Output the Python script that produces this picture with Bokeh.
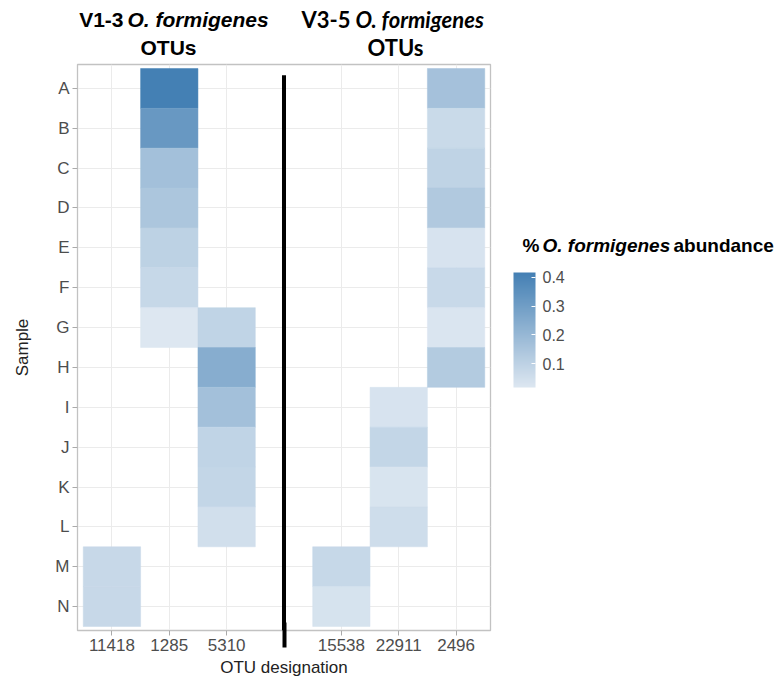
import numpy as np
from bokeh.plotting import figure
from bokeh.layouts import column, row
from bokeh.models import (ColumnDataSource, LinearColorMapper, ColorBar, FixedTicker,
                          Range1d, BoxAnnotation, Label)
from bokeh.embed import file_html
from bokeh.resources import INLINE

# ---------------- data ----------------
samples = list("ABCDEFGHIJKLMN")
v13_otus = ["11418", "1285", "5310"]
v35_otus = ["15538", "22911", "2496"]
otu_slots = v13_otus + [""] + v35_otus   # blank slot holds the divider

tile_otu = (["1285"] * 7 + ["5310"] * 6 + ["11418"] * 2 +
            ["15538"] * 2 + ["22911"] * 4 + ["2496"] * 8)
tile_sample = (list("ABCDEFG") + list("GHIJKL") + list("MN") +
               list("MN") + list("IJKL") + list("ABCDEFGH"))
abundance = ([0.417, 0.322, 0.170, 0.146, 0.101, 0.077, 0.017] +
             [0.093, 0.241, 0.167, 0.093, 0.085, 0.049] +
             [0.075, 0.075] +
             [0.077, 0.035] +
             [0.033, 0.085, 0.030, 0.057] +
             [0.164, 0.070, 0.096, 0.133, 0.033, 0.072, 0.025, 0.127])
legend_ticks = [0.1, 0.2, 0.3, 0.4]

# ---------------- colours ----------------
def hex2rgb(h):
    h = h.lstrip("#")
    return np.array([int(h[i:i + 2], 16) for i in (0, 2, 4)], dtype=float)

low_c, high_c = hex2rgb("#dde7f1"), hex2rgb("#4480b4")
palette = ["#%02x%02x%02x" % tuple(int(round(c)) for c in low_c + (high_c - low_c) * t)
           for t in np.linspace(0, 1, 256)]
mapper = LinearColorMapper(palette=palette, low=min(abundance), high=max(abundance))

src = ColumnDataSource(dict(
    x=[otu_slots.index(o) + 1 for o in tile_otu],
    y=[samples.index(s) + 1 for s in tile_sample],
    v=abundance,
))

TOP, BOTTOM = 1, 53          # borders of the heatmap figure (frames are aligned in the row)
HEAD_H = 63


def blank_fig(w, h, top=0, bottom=0):
    f = figure(width=w, height=h, output_backend="svg", toolbar_location=None,
               title=None, x_axis_type=None, y_axis_type=None,
               x_range=Range1d(0, w), y_range=Range1d(h - top - bottom, 0),
               min_border=0, min_border_left=0, min_border_right=0,
               min_border_top=top, min_border_bottom=bottom,
               background_fill_color="white", border_fill_color="white")
    f.grid.visible = False
    f.outline_line_color = None
    return f


def lab(f, txt, x, y, size, font, style="bold", align="left"):
    f.add_layout(Label(x=x, y=y, text=txt, text_font=font, text_font_size=size,
                       text_font_style=style, text_align=align,
                       text_baseline="alphabetic", text_color="black"))


# ---------------- header strip ----------------
head = blank_fig(779, HEAD_H)
lab(head, "V1-3", 123, 19, "21px", "Liberation Sans", "bold", "right")
lab(head, "O. formigenes", 127, 19, "21px", "Liberation Sans", "bold italic", "left")
lab(head, "OTUs", 168, 47, "21px", "Liberation Sans", "bold", "center")
lab(head, "V3-5", 350, 19, "22px", "Lato", "bold", "right")
lab(head, "O. formigenes", 355, 19, "22px", "Lato", "bold italic", "left")
lab(head, "OTUs", 395, 47, "22px", "Lato", "bold", "center")

# ---------------- heatmap ----------------
p = figure(width=500, height=620, output_backend="svg", toolbar_location=None,
           title=None,
           x_range=Range1d(0.4, len(otu_slots) + 0.6),
           y_range=Range1d(len(samples) + 0.6, 0.4),
           min_border_left=77, min_border_right=10,
           min_border_top=TOP, min_border_bottom=BOTTOM,
           background_fill_color="white", border_fill_color="white")

p.rect(x="x", y="y", width=1, height=1, source=src,
       fill_color={"field": "v", "transform": mapper},
       line_color={"field": "v", "transform": mapper}, line_width=0.5)

p.outline_line_color = "#c2c2c2"
p.outline_line_width = 1.3

x_ticks = [i + 1 for i, o in enumerate(otu_slots) if o]
gap_pos = [i + 1 for i, o in enumerate(otu_slots) if not o]
p.xaxis.ticker = FixedTicker(ticks=x_ticks, minor_ticks=gap_pos)
p.xaxis.major_label_overrides = {i + 1: o for i, o in enumerate(otu_slots) if o}
p.yaxis.ticker = FixedTicker(ticks=list(range(1, len(samples) + 1)))
p.yaxis.major_label_overrides = {i + 1: s for i, s in enumerate(samples)}

for ax in (p.xaxis, p.yaxis):
    ax.axis_line_color = None
    ax.major_tick_line_color = "#aaaaaa"
    ax.major_tick_out = 5
    ax.major_tick_in = 0
    ax.major_label_text_font = "Liberation Sans"
    ax.major_label_text_font_size = "17px"
    ax.major_label_text_color = "#4d4d4d"
    ax.major_label_standoff = 3
    ax.axis_label_text_font = "Liberation Sans"
    ax.axis_label_text_font_size = "17px"
    ax.axis_label_text_font_style = "normal"
    ax.axis_label_text_color = "#222222"

p.yaxis.minor_tick_line_color = None
# the divider continues below the panel as a long black "minor tick"
p.xaxis.minor_tick_line_color = "black"
p.xaxis.minor_tick_line_width = 4
p.xaxis.minor_tick_out = 17
p.xaxis.minor_tick_in = 8
p.xaxis.major_label_standoff = -9   # compensate the long minor tick in the layout

p.xaxis.axis_label = "OTU designation"
p.xaxis.axis_label_standoff = 4
p.yaxis.axis_label = "Sample"
p.yaxis.axis_label_standoff = 20

p.xgrid.ticker = FixedTicker(ticks=x_ticks)
p.xgrid.grid_line_color = "#ebebeb"
p.ygrid.grid_line_color = "#ebebeb"

for g in gap_pos:
    p.add_layout(BoxAnnotation(left=g - 0.035, right=g + 0.035, top=0.67,
                               bottom=len(samples) + 0.6, fill_color="black",
                               fill_alpha=1.0, line_color=None, level="overlay"))

# ---------------- legend (frame aligned with the heatmap frame) ----------------
leg = blank_fig(279, 620, top=TOP, bottom=BOTTOM)
y0 = HEAD_H + TOP            # page y of the legend frame top
lab(leg, "%", 22, 245 - y0, "19px", "Liberation Sans", "bold", "left")
lab(leg, "O. formigenes", 42, 245 - y0, "19px", "Liberation Sans", "bold italic", "left")
lab(leg, "abundance", 173, 245 - y0, "19px", "Liberation Sans", "bold", "left")

cb = ColorBar(color_mapper=mapper, ticker=FixedTicker(ticks=legend_ticks),
              width=22, height=115, location=(13, 243), padding=0,
              orientation="vertical", title=None,
              major_label_text_font="Liberation Sans",
              major_label_text_font_size="16px",
              major_label_text_color="#4d4d4d",
              label_standoff=7,
              major_tick_line_color="white", major_tick_in=4, major_tick_out=0,
              minor_tick_line_color=None, bar_line_color=None,
              background_fill_alpha=0, border_line_color=None)
leg.add_layout(cb, "center")

layout = column(head, row(p, leg, spacing=0), spacing=0)
open("out.html", "w").write(file_html(layout, INLINE))
